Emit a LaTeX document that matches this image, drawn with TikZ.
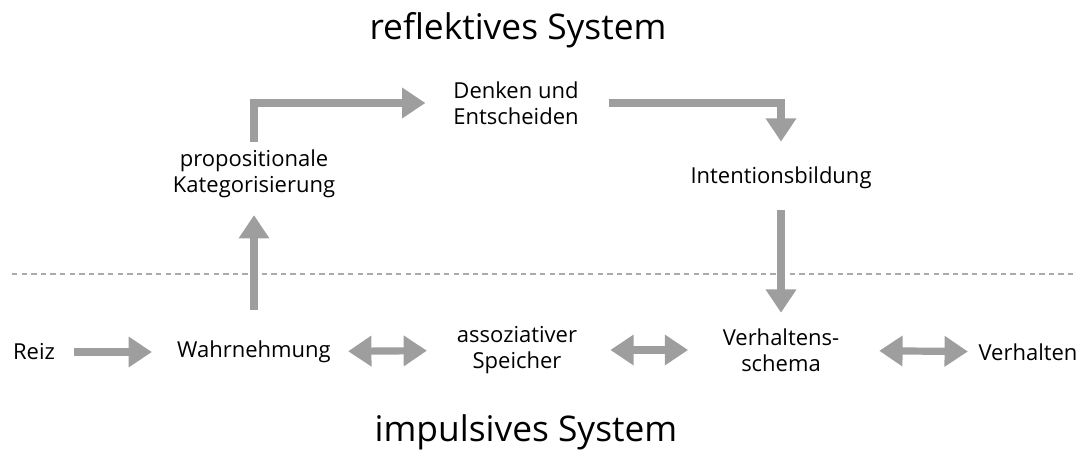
\documentclass[tikz,border=0pt]{standalone}
\usepackage{fontspec}
\setmainfont{Open Sans}
\usetikzlibrary{arrows.meta}

\definecolor{arrowgray}{HTML}{9E9E9E}
\definecolor{dashgray}{HTML}{ABABAB}

\tikzset{
  label/.style={inner sep=0pt, outer sep=0pt, align=center,
    font=\fontsize{16.5}{19.2}\selectfont},
  heading/.style={inner sep=0pt, outer sep=0pt,
    font=\fontsize{26.5}{30}\selectfont},
  tip/.tip={Triangle[length=17.5pt,width=22pt]},
  flow/.style={draw=arrowgray, line width=5.4pt, line join=miter, -tip},
  twoway/.style={draw=arrowgray, line width=5.4pt, tip-tip},
}

\begin{document}
\begin{tikzpicture}[x=0.75pt, y=-0.75pt]
  \useasboundingbox (0,0) rectangle (1085,453);

  % system headings
  \node[heading] (refl) at (518,30) {reflektives System};
  \node[heading] (impu) at (526,432) {impulsives System};

  % boundary between the two systems
  \draw[dashgray, line width=1.5pt, dash pattern=on 4pt off 3.2pt]
    (12,274) -- (1073,274);

  % reflective stages
  \node[label] (denk)   at (516,103) {Denken und\\Entscheiden};
  \node[label] (prop)   at (254,174) {propositionale\\Kategorisierung};
  \node[label] (intent) at (781,178) {Intentionsbildung};

  % impulsive stages
  \node[label] (reiz)  at (34,352)   {Reiz};
  \node[label] (wahr)  at (254,352)  {Wahrnehmung};
  \node[label] (assoz) at (517,350)  {assoziativer\\Speicher};
  \node[label] (vs)    at (781,350)  {Verhaltens-\\schema};
  \node[label] (verh)  at (1028,352) {Verhalten};

  % impulsive chain
  \draw[flow, shorten <=14pt, shorten >=19pt] (reiz) -- (wahr);
  \draw[twoway, shorten <=13pt, shorten >=22.5pt] (wahr) -- (assoz);
  \draw[twoway, shorten <=25pt, shorten >=26pt] (assoz) -- (vs);
  \draw[twoway, shorten <=30pt, shorten >=8pt] (vs) -- (verh);

  % reflective loop
  \draw[flow, shorten <=23pt, shorten >=13pt] (wahr) -- (prop);
  \draw[flow, shorten <=6pt, shorten >=21pt] (prop) |- (denk);
  \draw[flow, shorten <=22.5pt, shorten >=19pt] (denk) -| (intent);
  \draw[flow, shorten <=16pt, shorten >=12pt] (intent) -- (vs);
\end{tikzpicture}
\end{document}
